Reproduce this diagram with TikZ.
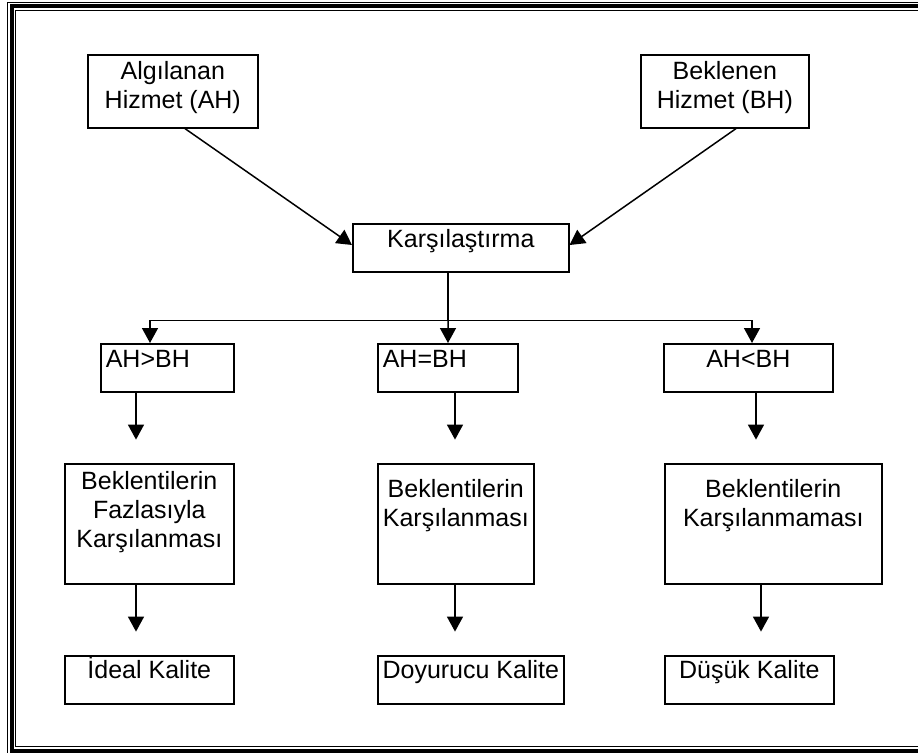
\documentclass[tikz,border=0pt]{standalone}
\usepackage{fontspec}
\setmainfont{Liberation Sans}
\usetikzlibrary{arrows.meta}

% box content: width, height, first-baseline offset, alignment, text
\newcommand\boxbody[5]{\parbox[c][#2][t]{#1}{#4\rule{0pt}{#3}#5\par}}
\newcommand\leftpad{\hspace*{5bp}}

\begin{document}
\begin{tikzpicture}[x=1bp,y=-1bp,
  box/.style={draw, line width=1.6bp, inner sep=0pt, anchor=north west,
    font=\fontsize{25bp}{29bp}\selectfont},
  arr/.style={line width=1.5bp, -{Triangle[width=16bp,length=15bp]}},
  link/.style={line width=1.5bp}]
\useasboundingbox (0,0) rectangle (918,753);

% page frame: thin, thick, thin
\begin{scope}
\clip (0,0) rectangle (918,753);
\draw[line width=1bp] (7.5,2.5) rectangle (935,755.5);
\draw[line width=4bp] (12,6) rectangle (930,750.8);
\draw[line width=1bp] (15.5,10.5) rectangle (925,746);
\end{scope}

% top row
\node[box] (ah) at (87,54) {\boxbody{170bp}{73bp}{25bp}{\centering}{Algılanan\\Hizmet (AH)}};
\node[box] (bh) at (640,54) {\boxbody{168bp}{73bp}{25bp}{\centering}{Beklenen\\Hizmet (BH)}};
\node[box] (cmp) at (352,223) {\boxbody{216bp}{48bp}{24bp}{\centering}{Karşılaştırma}};

% comparison outcomes
\node[box] (gt) at (100,343) {\boxbody{133bp}{48bp}{24bp}{\raggedright\leftpad}{AH>BH}};
\node[box] (eq) at (377,343) {\boxbody{140bp}{48bp}{24bp}{\raggedright\leftpad}{AH=BH}};
\node[box] (lt) at (663,343) {\boxbody{169bp}{48bp}{24bp}{\centering}{AH<BH}};

% expectation results
\node[box] (ex1) at (64,463) {\boxbody{169bp}{120bp}{26bp}{\centering}{Beklentilerin\\Fazlasıyla\\Karşılanması}};
\node[box] (ex2) at (377,463) {\boxbody{156bp}{120bp}{34bp}{\centering}{Beklentilerin\\Karşılanması}};
\node[box] (ex3) at (664,463) {\boxbody{217bp}{120bp}{34bp}{\centering}{Beklentilerin\\Karşılanmaması}};

% quality levels
\node[box] (q1) at (64,655) {\boxbody{169bp}{48bp}{23bp}{\centering}{İdeal Kalite}};
\node[box] (q2) at (377,655) {\boxbody{186bp}{48bp}{23bp}{\centering}{Doyurucu Kalite}};
\node[box] (q3) at (664,655) {\boxbody{169bp}{48bp}{23bp}{\centering}{Düşük Kalite}};

% inputs into the comparison
\draw[arr] ([xshift=98bp]ah.south west) -- ([yshift=-22bp]cmp.north west);
\draw[arr] ([xshift=96bp]bh.south west) -- ([yshift=-22bp]cmp.north east);

% split into three outcomes
\coordinate (split) at ([xshift=96bp,yshift=-48bp]cmp.south west);
\draw[link] ([xshift=96bp]cmp.south west) -- (split);
\draw[arr] (split) -| ([xshift=50bp]gt.north west);
\draw[arr] (split) -- ([xshift=71bp]eq.north west);
\draw[arr] (split) -| ([xshift=89bp]lt.north west);

% outcome to result arrows (free ends)
\draw[arr] ([xshift=36bp]gt.south west) -- ++(0,47);
\draw[arr] ([xshift=78bp]eq.south west) -- ++(0,47);
\draw[arr] ([xshift=93bp]lt.south west) -- ++(0,47);

\draw[arr] ([xshift=72bp]ex1.south west) -- ++(0,47);
\draw[arr] ([xshift=78bp]ex2.south west) -- ++(0,47);
\draw[arr] ([xshift=97bp]ex3.south west) -- ++(0,47);
\end{tikzpicture}
\end{document}
